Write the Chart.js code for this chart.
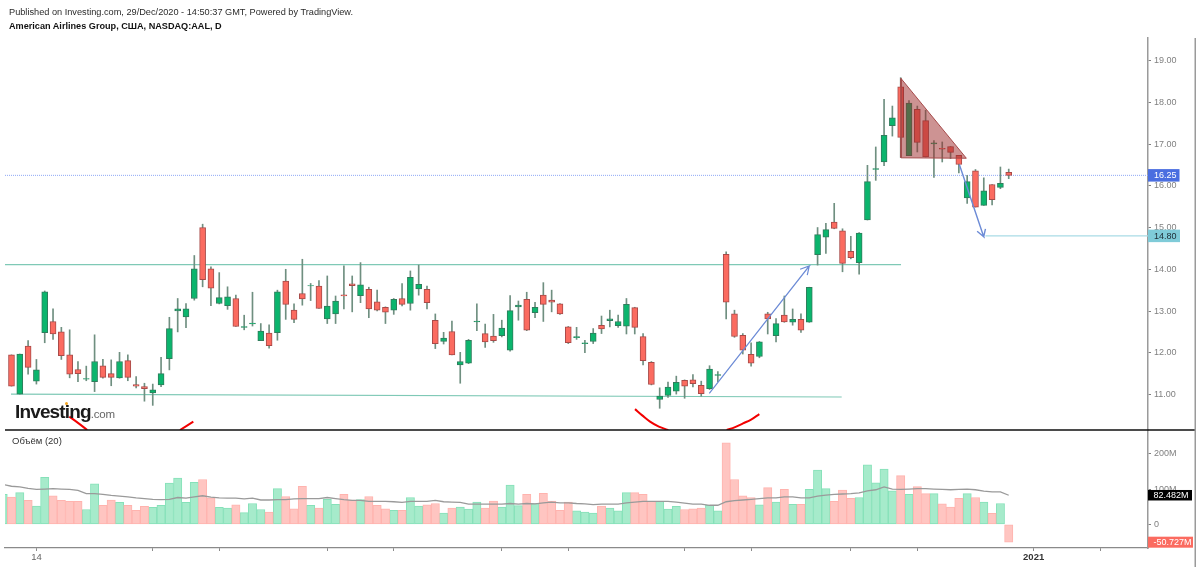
<!DOCTYPE html>
<html lang="ru">
<head>
<meta charset="utf-8">
<title>American Airlines Group, NASDAQ:AAL, D</title>
<script src="https://cdn.jsdelivr.net/npm/chart.js@4"></script>
<style>
html,body{margin:0;padding:0;background:#fff;overflow:hidden}
#wrap{position:relative;width:1200px;height:567px;font-family:"Liberation Sans",Arial,sans-serif}
#c{position:absolute;left:0;top:0}
.t{position:absolute;white-space:nowrap}
#h1{left:9px;top:6px;font-size:9.2px;line-height:12px;color:#2b2b2b}
#h2{left:9px;top:20px;font-size:9.15px;line-height:12px;font-weight:bold;color:#111}
#vol{left:12px;top:435px;font-size:9.5px;line-height:12px;color:#333}
#logo{left:15px;top:400px;font-size:19px;line-height:24px;font-weight:bold;color:#1a1a1a;letter-spacing:-.85px}
#logo span{font-size:11.5px;font-weight:normal;color:#666;letter-spacing:-.2px}
#dot{position:absolute;left:65px;top:402px;width:3px;height:3px;border-radius:50%;background:#f5a623}
</style>
</head>
<body>
<div id="wrap">
<canvas id="c" width="1200" height="567"></canvas>
<div class="t" id="h1">Published on Investing.com, 29/Dec/2020 - 14:50:37 GMT, Powered by TradingView.</div>
<div class="t" id="h2">American Airlines Group, США, NASDAQ:AAL, D</div>
<div class="t" id="vol">Объём (20)</div>
<div class="t" id="logo">Investing<span>.com</span></div>
<div id="dot"></div>
</div>
<script>
const opens=[11.95,11.01,12.16,11.32,12.48,12.75,12.50,11.95,11.60,11.37,11.31,11.69,11.50,11.40,11.81,11.24,11.19,11.04,11.23,11.86,13.00,12.86,13.30,15.00,14.01,13.18,13.13,13.30,12.61,12.69,12.29,12.47,12.48,13.72,13.02,13.42,13.60,13.60,12.81,12.93,13.39,13.65,13.37,13.52,13.22,13.09,13.02,13.30,13.18,13.53,13.52,12.78,12.27,12.51,11.71,11.75,12.74,12.46,12.40,12.41,12.06,13.10,13.28,12.96,13.38,13.26,13.17,12.62,12.36,12.22,12.27,12.66,12.77,12.65,12.64,13.08,12.39,11.77,10.88,10.98,11.08,11.34,11.35,11.22,11.14,11.46,14.36,12.93,12.42,11.96,11.91,12.93,12.41,12.90,12.73,12.80,12.73,14.35,14.77,15.13,14.92,14.43,14.16,15.18,16.39,16.57,17.44,18.37,16.72,17.83,17.56,17.00,16.90,16.94,16.73,15.71,16.36,15.53,16.03,15.96,16.32];
const closes=[11.20,11.97,11.65,11.59,13.46,12.45,11.93,11.49,11.50,11.38,11.79,11.41,11.41,11.79,11.41,11.20,11.14,11.11,11.50,12.58,13.05,13.05,14.01,13.75,13.55,13.32,13.34,12.63,12.63,12.71,12.52,12.17,13.46,13.16,12.80,13.29,13.61,13.06,13.12,13.24,13.36,13.61,13.63,13.05,13.02,12.97,13.28,13.16,13.81,13.64,13.20,12.22,12.35,11.95,11.79,12.30,12.76,12.26,12.29,12.59,13.01,13.14,12.54,13.09,13.16,13.21,12.93,12.24,12.39,12.24,12.47,12.57,12.81,12.75,13.16,12.61,11.81,11.24,10.96,11.18,11.29,11.20,11.26,11.02,11.61,11.48,13.21,12.39,12.06,11.75,12.26,12.81,12.70,12.74,12.80,12.54,13.57,14.83,14.95,14.98,14.14,14.28,14.87,16.10,16.41,17.21,17.63,17.16,17.98,17.04,16.69,17.03,16.88,16.80,16.51,16.10,15.49,15.88,15.67,16.06,16.25];
const highs=[11.95,11.97,12.29,11.84,13.48,13.05,12.61,12.55,11.79,11.68,12.43,11.84,11.83,12.01,11.95,11.43,11.27,11.25,11.89,12.85,13.30,13.18,14.33,15.08,14.06,13.92,13.58,13.38,12.90,13.45,12.70,12.67,13.50,14.00,13.17,14.24,13.66,13.73,13.84,13.36,14.08,13.84,14.16,13.57,13.50,13.10,13.30,13.66,13.96,14.10,13.60,12.93,12.49,12.76,12.01,12.32,13.17,12.69,12.92,12.78,13.37,13.24,13.45,13.21,13.68,13.50,13.18,12.63,12.61,12.30,12.58,12.88,13.02,12.90,13.30,13.09,12.46,11.79,11.16,11.30,11.44,11.35,11.48,11.32,11.69,11.55,14.42,13.02,12.46,12.24,12.27,12.97,12.82,13.36,13.05,12.93,13.57,15.00,15.10,15.58,14.97,14.79,14.88,16.49,16.93,18.07,17.91,18.59,18.04,17.91,17.81,17.08,17.05,16.94,16.73,16.25,16.39,16.19,16.03,16.45,16.40];
const lows=[11.20,11.01,11.49,11.25,12.24,12.32,11.84,11.40,11.31,11.33,11.07,11.39,11.21,11.39,11.33,11.16,10.84,10.74,11.19,11.59,12.50,12.60,13.26,13.58,13.13,13.17,13.04,12.63,12.55,12.64,12.29,12.11,12.30,12.80,12.72,13.14,13.25,13.06,12.70,12.70,13.05,12.98,13.20,12.84,13.00,12.70,12.92,13.12,13.02,13.38,13.05,12.10,12.21,11.95,11.27,11.74,12.53,12.13,12.25,12.38,12.04,12.78,12.53,12.84,12.75,12.98,12.92,12.22,12.32,12.00,12.22,12.46,12.62,12.61,12.45,12.45,11.71,11.23,10.67,10.93,11.01,10.91,11.18,10.96,11.12,11.31,12.81,12.37,11.97,11.68,11.88,12.45,12.26,12.73,12.66,12.49,12.73,14.10,14.38,14.97,13.94,14.25,13.88,15.18,16.13,16.48,17.19,16.68,16.72,16.81,16.69,16.20,16.57,16.65,16.31,15.58,15.49,15.53,15.54,15.93,16.17];
const earlierVolume=85;
const volumes=[77,90,68,52,133,81,68,65,65,42,115,54,69,62,54,40,51,48,54,117,131,62,119,127,75,48,46,55,33,59,42,35,101,79,44,108,54,46,71,57,85,69,70,79,54,44,40,40,76,52,55,59,32,46,49,43,63,46,66,49,111,53,85,59,88,66,40,63,38,35,32,52,46,38,90,90,85,65,65,43,51,42,44,46,54,38,231,127,81,76,55,104,63,99,57,57,99,154,101,65,97,74,76,169,118,157,95,138,85,107,87,87,58,49,74,87,76,63,31,59,-50.727];
const volumeMA=[113,108,106,102,99,100,101,100,99,96,87,87,85,82,80,78,75,73,71,70,71,76,74,78,81,77,75,74,74,72,74,69,69,70,70,72,73,73,73,76,73,70,68,68,65,65,65,64,62,65,65,65,68,64,63,62,57,57,57,57,57,59,57,59,58,61,63,61,61,59,58,56,57,57,57,61,63,65,65,65,65,63,60,57,57,54,54,64,67,69,71,73,75,75,78,78,75,75,80,83,85,86,87,89,95,98,106,100,99,100,101,101,100,99,98,99,100,98,94,92,92,82.482];
const tickDays=[3,17,25,38,46,59,67,81,89,101,109,123,131];
const tickNames={3:"14",123:"2021"};
const priceTicks={min:10.15,max:19.54,step:1};
const volumeTicks={min:-67.2,max:267.5,step:100};
const upperLevel=[[-0.78,14.11],[107.04,14.11]];
const lowerLevel=[[-0.06,11.01],[99.9,10.94]];
const lastPriceLevel=[[-0.78,16.25],[136.76,16.25]];
const targetLevel=[[117.2,14.80],[136.76,14.80]];
const triangle=[[107.04,18.57],[107.04,16.67],[114.9,16.66],[107.04,18.57]];
const arrowUp=[[83.97,11.03],[96.0,14.08],[94.9,14.0],[96.0,14.08],[95.76,13.86]];
const arrowDown=[[114.06,16.51],[116.99,14.78],[116.2,14.91],[116.99,14.78],[117.2,14.97]];
const arcs=[[[6.96,10.47],[8.0,10.32],[9.12,10.15]],[[20.28,10.15],[21.88,10.35]],[[75.03,10.65],[75.9,10.5],[76.84,10.35],[77.9,10.23],[79.04,10.15]],[[86.06,10.15],[87.07,10.22],[88.03,10.31],[89.0,10.4],[89.99,10.53]]];

const GREEN='#0bb56d',RED='#fb6b60',GB='#2f7d5c',RB='#a84a48';
const days=opens.map((_,i)=>i);
const pts=a=>a.map(p=>({x:p[0],y:p[1]}));
const body=up=>days.filter(i=>(closes[i]>=opens[i])===up).map(i=>({x:i,y:[opens[i],closes[i]]}));
const volAll=[{x:-1,v:earlierVolume,up:true}].concat(days.map(i=>({x:i,v:volumes[i],up:closes[i]>=opens[i]})));
const vol=up=>volAll.filter(d=>d.up===up).map(d=>({x:d.x,y:[0,d.v]}));
const line=(data,color,width,order,extra)=>Object.assign({type:'line',data:pts(data),borderColor:color,borderWidth:width,pointRadius:0,tension:0,fill:false,yAxisID:'y',xAxisID:'x',order:order},extra||{});

const datasets=[
 {type:'bar',data:vol(true),backgroundColor:'#a6ebcb',borderColor:'#86e1b9',borderWidth:1,borderSkipped:false,barThickness:8.3,grouped:false,yAxisID:'yVol',xAxisID:'x',order:20},
 {type:'bar',data:vol(false),backgroundColor:'#ffc5c1',borderColor:'#ffb3ae',borderWidth:1,borderSkipped:false,barThickness:8.3,grouped:false,yAxisID:'yVol',xAxisID:'x',order:19},
 {type:'line',data:[{x:-1,y:volumeMA[0]}].concat(days.map(i=>({x:i,y:volumeMA[i+1]}))),borderColor:'#9a9a9a',borderWidth:1.3,pointRadius:0,tension:0,fill:false,yAxisID:'yVol',xAxisID:'x',order:18},
 line(lastPriceLevel,'#8ea8f6',1,17,{borderDash:[1,1]}),
 line(targetLevel,'#a9dbe6',1.2,16),
 line(upperLevel,'#7fc9b6',1.2,15),
 line(lowerLevel,'#7fc9b6',1.2,14),
 {type:'bar',data:days.map(i=>({x:i,y:[lows[i],highs[i]]})),backgroundColor:'#6f8f80',borderWidth:0,barThickness:1,grouped:false,yAxisID:'y',xAxisID:'x',order:13},
 {type:'bar',data:body(true),backgroundColor:GREEN,borderColor:GB,borderWidth:1,borderSkipped:false,barThickness:6,grouped:false,yAxisID:'y',xAxisID:'x',order:12},
 {type:'bar',data:body(false),backgroundColor:RED,borderColor:RB,borderWidth:1,borderSkipped:false,barThickness:6,grouped:false,yAxisID:'y',xAxisID:'x',order:11},
 line(triangle,'#a64a4a',1,10,{fill:'shape',backgroundColor:'rgba(156,40,40,0.5)'}),
 line(arrowUp,'#6c8bd6',1.2,9),
 line(arrowDown,'#6c8bd6',1.4,8)
].concat(arcs.map(a=>line(a,'#f20000',2,7,{tension:0.4})));

const tagFont='9px "Liberation Sans",Arial,sans-serif';
const tags=[
 {axis:'y',value:16.25,text:'16.25',bg:'#4a6ee0',fg:'#fff',w:31.5,h:12.5},
 {axis:'y',value:14.80,text:'14.80',bg:'#7fcbd8',fg:'#1c2b33',w:32,h:12.5},
 {axis:'yVol',value:82.482,text:'82.482M',bg:'#000',fg:'#fff',w:44,h:10.5},
 {axis:'yVol',value:-50.727,text:'-50.727M',bg:'#fb6b60',fg:'#fff',w:45,h:11}
];
const frame={id:'frame',afterDraw(ch){
 const c=ch.ctx,a=ch.chartArea,sep=ch.scales.y.bottom;
 c.save();
 c.fillStyle='#111';c.fillRect(5,sep-0.75,1190,1.5);
 c.fillStyle='#9a9a9a';c.fillRect(1194.5,a.top,1.5,567-a.top);
 c.font=tagFont;c.textBaseline='middle';c.textAlign='left';
 tags.forEach(t=>{const y=ch.scales[t.axis].getPixelForValue(t.value);
  c.fillStyle=t.bg;c.fillRect(1148,y-t.h/2,t.w,t.h);
  c.fillStyle=t.fg;c.fillText(t.text,t.text.length>6?1153.5:1154,y+0.5);});
 c.restore();
}};
const axisGrey='#808080';
new Chart(document.getElementById('c'),{
 type:'bar',
 data:{datasets},
 plugins:[frame],
 options:{
  responsive:false,animation:false,devicePixelRatio:1,
  layout:{padding:{left:5,top:38,right:0,bottom:0}},
  plugins:{legend:{display:false},tooltip:{enabled:false},title:{display:false}},
  scales:{
   x:{type:'linear',offset:false,min:-0.78,max:136.76,position:'bottom',
      border:{color:'#8a8a8a',width:1.2},grid:{display:true,offset:false,drawOnChartArea:false,tickLength:3,tickColor:'#8a8a8a'},
      afterBuildTicks:s=>{s.ticks=tickDays.map(v=>({value:v}));},
      afterFit:s=>{s.height=19;},
      ticks:{autoSkip:false,maxRotation:0,padding:1,callback:v=>tickNames[v]||'',
        font:ctx=>({family:'"Liberation Sans",Arial,sans-serif',size:9.5,weight:ctx.tick&&ctx.tick.value===123?'bold':'normal'}),
        color:ctx=>ctx.tick&&ctx.tick.value===123?'#333':'#666'}},
   y:{type:'linear',stack:'panes',stackWeight:392,position:'right',min:priceTicks.min,max:priceTicks.max,
      border:{color:'#9a9a9a',width:1.5},grid:{display:true,drawOnChartArea:false,tickLength:3,tickColor:axisGrey},
      afterFit:s=>{s.width=52;},
      ticks:{stepSize:priceTicks.step,includeBounds:false,padding:3,color:axisGrey,font:{family:'"Liberation Sans",Arial,sans-serif',size:9},callback:v=>Number(v).toFixed(2)}},
   yVol:{type:'linear',stack:'panes',stackWeight:118,position:'right',min:volumeTicks.min,max:volumeTicks.max,
      border:{color:'#9a9a9a',width:1.5},grid:{display:true,drawOnChartArea:false,tickLength:3,tickColor:axisGrey},
      afterFit:s=>{s.width=52;},
      ticks:{stepSize:volumeTicks.step,includeBounds:false,padding:3,color:axisGrey,font:{family:'"Liberation Sans",Arial,sans-serif',size:9},callback:v=>v===0?'0':v+'M'}}
  }
 }
});
</script>
</body>
</html>
